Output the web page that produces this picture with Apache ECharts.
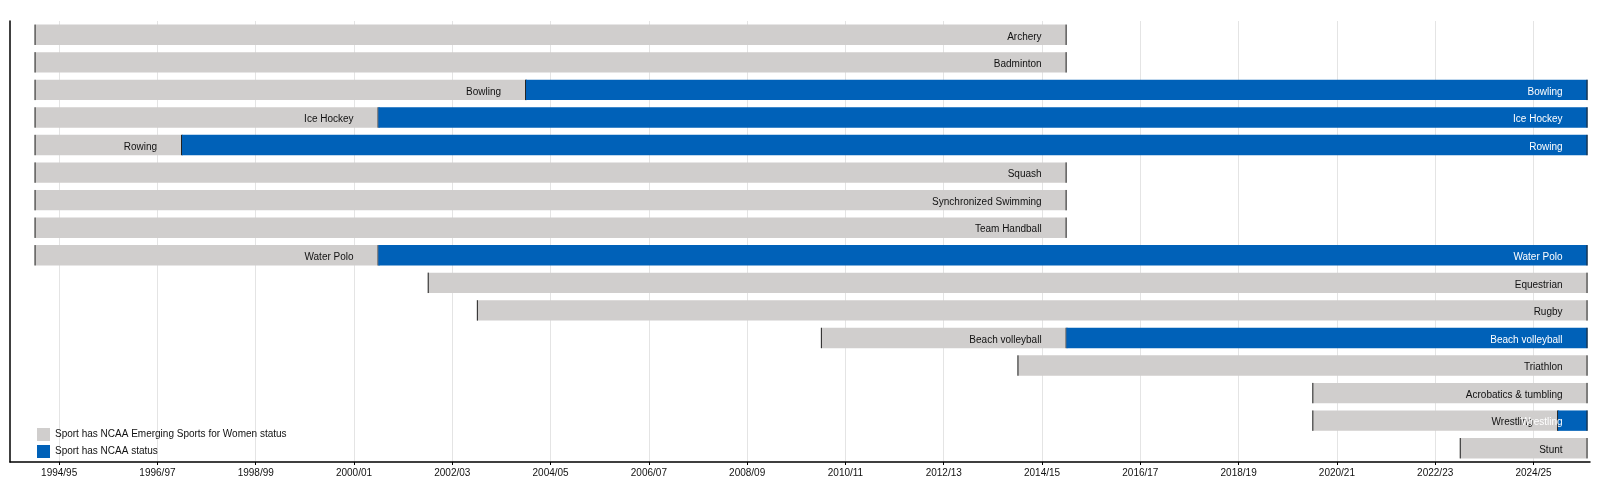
<!DOCTYPE html>
<html>
<head>
<meta charset="utf-8">
<script src="https://cdn.jsdelivr.net/npm/echarts@6/dist/echarts.min.js"></script>
<style>
    html, body { margin: 0; padding: 0; background: #fff; overflow: hidden; }
    #chart { width: 1600px; height: 489px; }
</style>
</head>
<body>
<div id="chart"></div>
<script>
const sports = ['Archery', 'Badminton', 'Bowling', 'Ice Hockey', 'Rowing', 'Squash',
    'Synchronized Swimming', 'Team Handball', 'Water Polo', 'Equestrian', 'Rugby',
    'Beach volleyball', 'Triathlon', 'Acrobatics & tumbling', 'Wrestling', 'Stunt'];
// season start of emerging status, start of NCAA status (null = none), end of emerging status
const emergingStart = [1993.5, 1993.5, 1993.5, 1993.5, 1993.5, 1993.5, 1993.5, 1993.5, 1993.5,
    2001.5, 2002.5, 2009.5, 2013.5, 2019.5, 2019.5, 2022.5];
const emergingEnd = [2014.5, 2014.5, 2003.5, 2000.5, 1996.5, 2014.5, 2014.5, 2014.5, 2000.5,
    2025.1, 2025.1, 2014.5, 2025.1, 2025.1, 2024.5, 2025.1];
const ncaaStart = [null, null, 2003.5, 2000.5, 1996.5, null, null, null, 2000.5,
    null, null, 2014.5, null, null, 2024.5, null];
const today = 2025.1;
const tickYears = [1994, 1996, 1998, 2000, 2002, 2004, 2006, 2008, 2010, 2012, 2014,
    2016, 2018, 2020, 2022, 2024];

const GREY = '#d0cecd';
const BLUE = '#0061b8';
const FONT = 'Liberation Sans';

const greyData = sports.map((s, i) => [i, emergingStart[i], emergingEnd[i], s]);
const blueData = [];
sports.forEach((s, i) => {
    if (ncaaStart[i] !== null) blueData.push([i, ncaaStart[i], today, s]);
});

function makeRenderer(fill, textColor) {
    return function (params, api) {
        const row = api.value(0);
        const p0 = api.coord([api.value(1), row]);
        const p1 = api.coord([api.value(2), row]);
        const h = api.size([0, 1])[1] * 0.74;
        const y = p0[1] - h / 2;
        return {
            type: 'group',
            children: [
                { type: 'rect', shape: { x: p0[0], y: y, width: p1[0] - p0[0], height: h },
                  style: { fill: fill } },
                { type: 'line', shape: { x1: p0[0] + 0.5, y1: y, x2: p0[0] + 0.5, y2: y + h },
                  style: { stroke: fill === GREY ? '#222' : fill, lineWidth: 1 } },
                { type: 'line', shape: { x1: p1[0] - 0.5, y1: y, x2: p1[0] - 0.5, y2: y + h },
                  style: { stroke: '#222', lineWidth: 1 } },
                { type: 'text', x: p1[0] - 25, y: p0[1] + 2,
                  style: { text: api.value(3), fill: textColor, align: 'right', verticalAlign: 'middle',
                      font: '10px "' + FONT + '"' } }
            ]
        };
    };
}

const chart = echarts.init(document.getElementById('chart'));
chart.setOption({
    animation: false,
    grid: { left: 10, right: 10, top: 21, bottom: 27 },
    legend: {
        orient: 'vertical', left: 32, top: 423, itemGap: 4, itemWidth: 13, itemHeight: 13,
        textStyle: { fontFamily: FONT, fontSize: 10, color: '#111' },
        data: [
            { name: 'Sport has NCAA Emerging Sports for Women status', icon: 'rect' },
            { name: 'Sport has NCAA status', icon: 'rect' }
        ]
    },
    xAxis: {
        type: 'value', min: 1993, max: 2025.15,
        axisLine: { show: true, lineStyle: { color: '#000', width: 1.5 } },
        axisTick: { show: true, customValues: tickYears, length: 3, lineStyle: { color: '#000' } },
        axisLabel: {
            customValues: tickYears, fontFamily: FONT, fontSize: 10, color: '#111', margin: 6,
            formatter: (v) => v + '/' + String((v + 1) % 100).padStart(2, '0')
        },
        splitLine: { show: true, lineStyle: { color: '#e4e4e4' } }
    },
    yAxis: {
        type: 'category', data: sports, inverse: true,
        axisLine: { show: true, lineStyle: { color: '#000', width: 1.5 } },
        axisTick: { show: false }, axisLabel: { show: false }
    },
    series: [
        { name: 'Sport has NCAA Emerging Sports for Women status', type: 'custom',
          itemStyle: { color: GREY }, renderItem: makeRenderer(GREY, '#111'),
          encode: { x: [1, 2], y: 0 }, data: greyData },
        { name: 'Sport has NCAA status', type: 'custom',
          itemStyle: { color: BLUE }, renderItem: makeRenderer(BLUE, '#fff'),
          encode: { x: [1, 2], y: 0 }, data: blueData }
    ]
});
</script>
</body>
</html>
